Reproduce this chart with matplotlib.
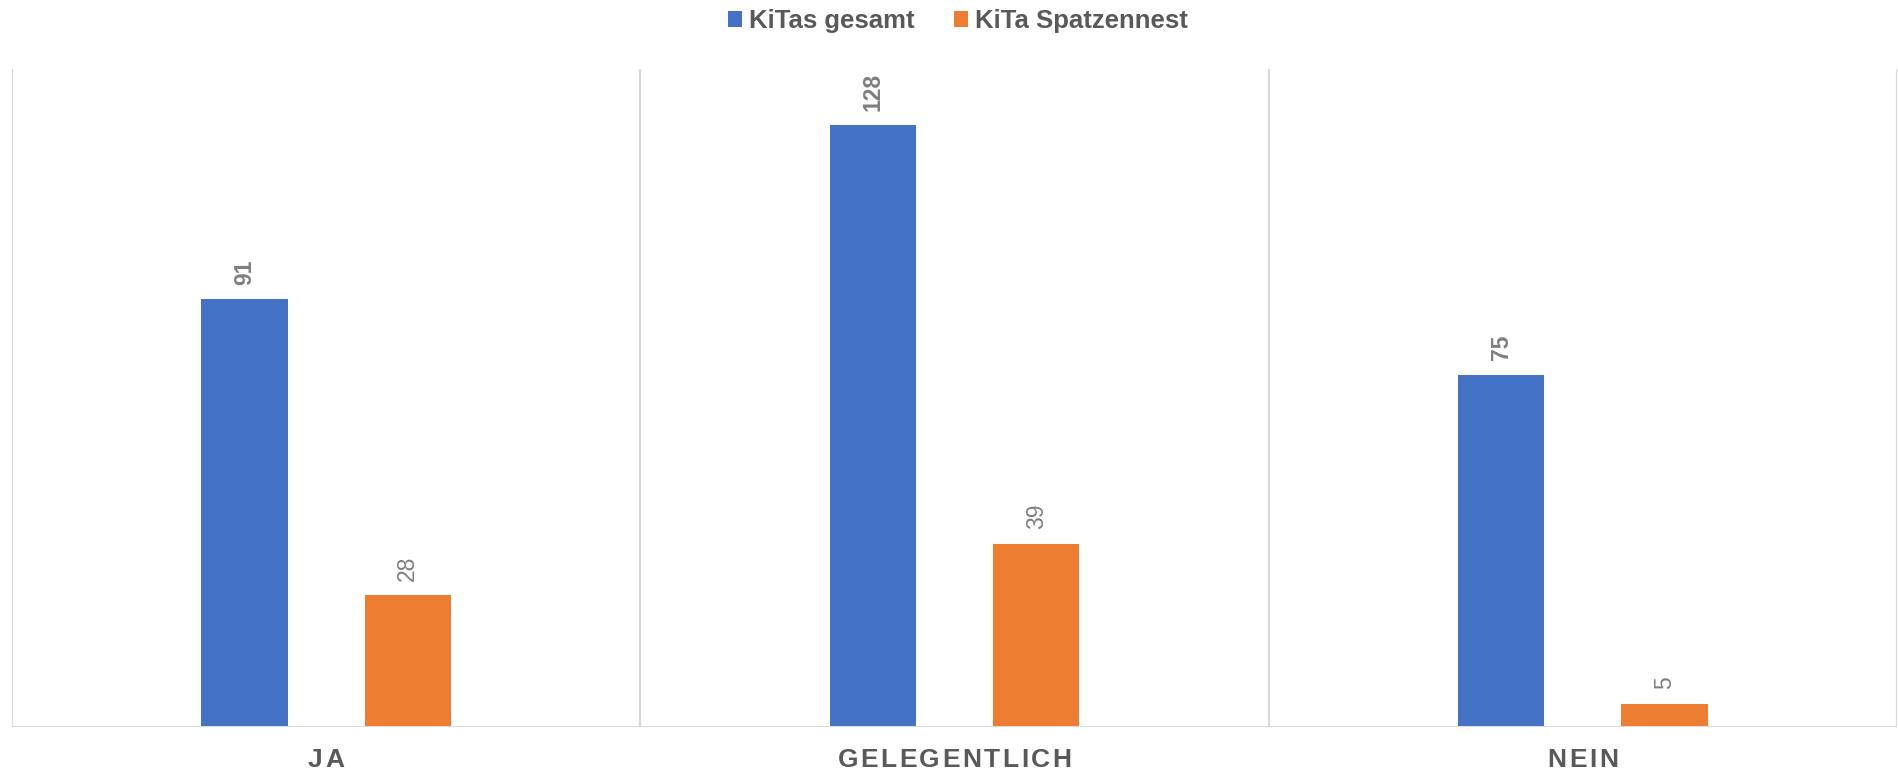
import numpy as np
import matplotlib
matplotlib.use("Agg")
import matplotlib.pyplot as plt
import matplotlib.font_manager as fm
from matplotlib.ft2font import FT2Font
from matplotlib.patches import Patch

categories = ["JA", "GELEGENTLICH", "NEIN"]
series_names = ["KiTas gesamt", "KiTa Spatzennest"]
kitas_gesamt = [91, 128, 75]
kita_spatzennest = [28, 39, 5]

BLUE = "#4472C4"
ORANGE = "#ED7D31"
GRID = "#D9D9D9"
TEXT = "#595959"
LABEL = "#7F7F7F"

W, H, DPI = 1898, 771, 100
fig = plt.figure(figsize=(W / DPI, H / DPI), dpi=DPI)
ax = fig.add_axes([12 / W, (H - 727) / H, 1885 / W, (727 - 69) / H])

x = np.arange(len(categories))
bw = 0.137
off = 0.13
b1 = ax.bar(x - off, kitas_gesamt, width=bw, color=BLUE, zorder=3)
b2 = ax.bar(x + off, kita_spatzennest, width=bw, color=ORANGE, zorder=3)

ax.set_xlim(-0.5, len(categories) - 0.5)
ax.set_ylim(0, 140)

for s in ["top", "right", "left", "bottom"]:
    ax.spines[s].set_visible(False)
ax.set_yticks([])
ax.set_xticks([])

# vertical separators
for xv in np.arange(-0.5, len(categories), 1.0):
    ax.axvline(xv, color=GRID, lw=1.6, zorder=1)
ax.axhline(0, color=GRID, lw=2.2, zorder=4)

# data labels
for rect, v in zip(b1, kitas_gesamt):
    ax.annotate(str(v), (rect.get_x() + rect.get_width() / 2, v),
                xytext=(0, 10.5), textcoords="offset points",
                rotation=90, ha="center", va="bottom",
                fontsize=16.5, fontweight="bold", color=LABEL,
                family="Liberation Sans")
for rect, v in zip(b2, kita_spatzennest):
    ax.annotate(str(v), (rect.get_x() + rect.get_width() / 2, v),
                xytext=(0, 10.5), textcoords="offset points",
                rotation=90, ha="center", va="bottom",
                fontsize=16.5, color=LABEL, family="Liberation Sans")

# letter-spaced category labels
fp = fm.FontProperties(family="Liberation Sans", weight="bold", size=19)
ft = FT2Font(fm.findfont(fp))
ft.set_size(19, DPI)


def adv(c):
    g = ft.load_char(ord(c))
    return g.linearHoriAdvance / 65536.0


track = 2.5
y_base = 767
for i, cat in enumerate(categories):
    cx = ax.transData.transform((i, 0))[0]
    widths = [adv(c) for c in cat]
    total = sum(widths) + track * (len(cat) - 1)
    xp = cx - total / 2
    for c, w in zip(cat, widths):
        fig.text(xp / W, (H - y_base) / H, c, ha="left", va="baseline",
                 fontproperties=fp, color=TEXT)
        xp += w + track

handles = [Patch(facecolor=BLUE, edgecolor="none"),
           Patch(facecolor=ORANGE, edgecolor="none")]
leg = fig.legend(handles, series_names, loc="center",
                 bbox_to_anchor=(958 / W, 1 - 21 / H), ncol=2, frameon=False,
                 handlelength=0.55, handleheight=0.55, handletextpad=0.3,
                 columnspacing=1.5, borderpad=0,
                 prop=fm.FontProperties(family="Liberation Sans", weight="bold", size=18.5))
for t in leg.get_texts():
    t.set_color(TEXT)

fig.savefig("out.png", dpi=DPI)
